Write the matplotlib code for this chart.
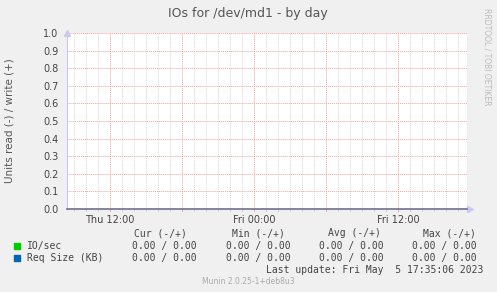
#!/usr/bin/env python3
"""Munin style 'IOs for /dev/md1 - by day' graph."""

import matplotlib

matplotlib.use("Agg")
import matplotlib.pyplot as plt

W, H = 497, 292

# hours since Thu 00:00
x_start, x_end = 8.42, 41.75
series_hours = [8.42, 12.0, 18.0, 24.0, 30.0, 36.0, 41.75]
io_per_sec = [0.0, 0.0, 0.0, 0.0, 0.0, 0.0, 0.0]
req_size_kb = [0.0, 0.0, 0.0, 0.0, 0.0, 0.0, 0.0]

y_ticks = [0.0, 0.1, 0.2, 0.3, 0.4, 0.5, 0.6, 0.7, 0.8, 0.9, 1.0]
x_label_hours = [12, 24, 36]
x_labels = ["Thu 12:00", "Fri 00:00", "Fri 12:00"]

legend_names = ["IO/sec", "Req Size (KB)"]
legend_colors = ["#00CC00", "#0066B3"]
legend_headers = ["Cur (-/+)", "Min (-/+)", "Avg (-/+)", "Max (-/+)"]
legend_values = [
    ["0.00 / 0.00", "0.00 / 0.00", "0.00 / 0.00", "0.00 / 0.00"],
    ["0.00 / 0.00", "0.00 / 0.00", "0.00 / 0.00", "0.00 / 0.00"],
]

BG = "#F0F0F0"
TEXT = "#444444"
MONO = "DejaVu Sans Mono"


def px(x, y):
    """pixel (from top-left) -> figure fraction"""
    return x / W, 1 - y / H


fig = plt.figure(figsize=(W / 100, H / 100), dpi=100, facecolor=BG)
left, top, right, bottom = 67, 33, 467, 209
ax = fig.add_axes([left / W, 1 - bottom / H, (right - left) / W, (bottom - top) / H])
ax.set_facecolor("white")
ax.set_xlim(x_start, x_end)
ax.set_ylim(0, 1.0)

# grid: minor every hour (gray), major every 6 hours and each 0.1 (red)
for h in range(9, 42):
    major = h % 6 == 0
    ax.axvline(h, color="#F4A0A0" if major else "#D8D8D8", lw=0.7,
               ls=(0, (1, 1)), zorder=1)
    ax.plot([h, h], [0, -0.012], color="#F4A0A0" if major else "#D0D0D0",
            lw=0.7, clip_on=False, zorder=1)
for v in y_ticks[1:]:
    ax.axhline(v, color="#F4A0A0", lw=0.7, ls=(0, (1, 1)), zorder=1)

ax.plot(series_hours, io_per_sec, color=legend_colors[0], lw=0.6, zorder=2)
ax.plot(series_hours, req_size_kb, color=legend_colors[1], lw=0.6, zorder=2)

for s in ["top", "right"]:
    ax.spines[s].set_visible(False)
ax.spines["left"].set_color("#C8C8F0")
ax.spines["bottom"].set_color("#707090")
ax.spines["left"].set_linewidth(0.8)
ax.spines["bottom"].set_linewidth(1.2)
ax.spines["bottom"].set_zorder(5)
ax.plot([x_start], [1.0], marker="^", ms=4, color="#C8C8F0", clip_on=False, zorder=4)
ax.plot([x_end + 0.25], [0.0], marker=">", ms=4, color="#C8C8F0", clip_on=False, zorder=4)

ax.set_yticks(y_ticks)
ax.set_yticklabels([f"{v:.1f}" for v in y_ticks])
ax.set_xticks(x_label_hours)
ax.set_xticklabels(x_labels)
ax.tick_params(length=0, labelsize=7, colors=TEXT, pad=4)
ax.tick_params(axis="y", pad=6)

fig.text(*px(248, 14), "IOs for /dev/md1 - by day", ha="center", va="center",
         fontsize=9, color="#555555")
fig.text(*px(10, 121), "Units read (-) / write (+)", ha="center", va="center",
         rotation=90, fontsize=7.5, color="#555555")
fig.text(*px(487, 57), "RRDTOOL / TOBI OETIKER", ha="center", va="center",
         rotation=-90, fontsize=5.5, color="#BBBBBB")

# legend block
header_x = [134, 232, 328, 423]
value_right = [197, 291, 384, 477]
for hx, label in zip(header_x, legend_headers):
    fig.text(*px(hx, 233), label, ha="left", va="center", fontsize=7,
             family=MONO, color=TEXT)
for row, (name, color, vals) in enumerate(zip(legend_names, legend_colors, legend_values)):
    y = 246 + row * 12
    fig.patches.append(plt.Rectangle(px(14, y + 3), 6 / W, 6 / H, color=color,
                                     transform=fig.transFigure, figure=fig))
    fig.text(*px(27, y), name, ha="left", va="center", fontsize=7,
             family=MONO, color=TEXT)
    for vx, val in zip(value_right, vals):
        fig.text(*px(vx, y), val, ha="right", va="center", fontsize=7,
                 family=MONO, color=TEXT)

fig.text(*px(483, 270), "Last update: Fri May  5 17:35:06 2023", ha="right",
         va="center", fontsize=7, family=MONO, color=TEXT)
fig.text(*px(248, 281), "Munin 2.0.25-1+deb8u3", ha="center", va="center",
         fontsize=5.5, color="#AAAAAA")

fig.savefig("out.png", dpi=100, facecolor=BG)
